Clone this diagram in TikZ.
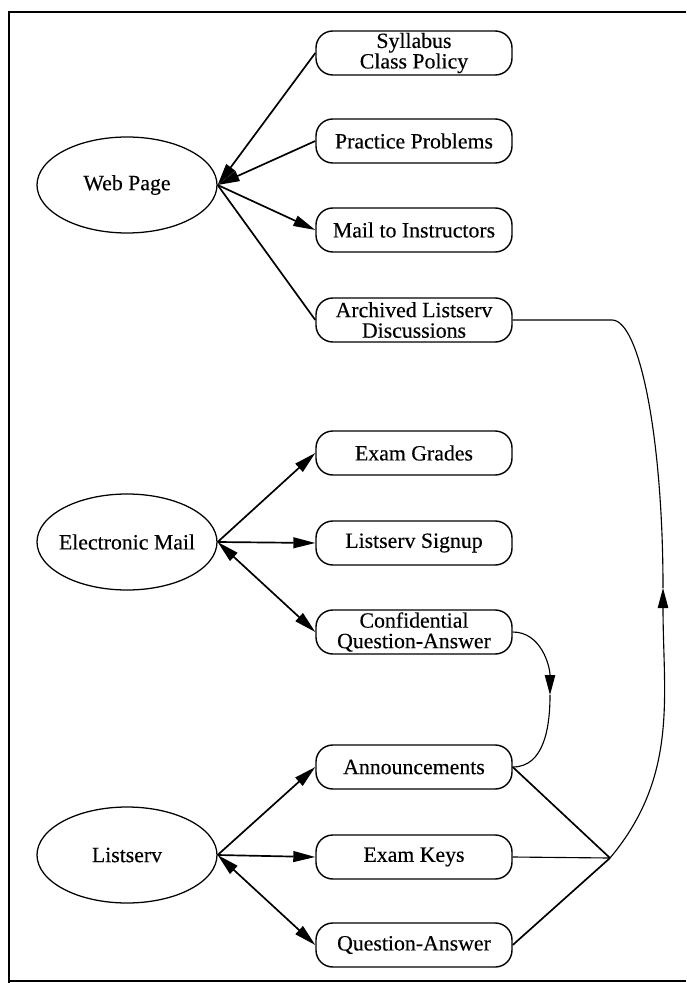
\documentclass[tikz,border=0pt]{standalone}
\usepackage{fontspec}
\setmainfont[FakeBold=0.3]{Liberation Serif}
\usepackage{tikz}
\usetikzlibrary{arrows.meta,shapes,arrows}

\begin{document}
\begin{tikzpicture}[font=\fontsize{15.5}{14.6}\selectfont]
      \useasboundingbox (0,0) rectangle (17.15,-24.575);
      % frame
      \draw[line width=1.5pt] (17.15,-0.3) -- (0.22,-0.3) -- (0.22,-24.575);
      \draw[line width=0.8pt] (0.22,-24.525) -- (17.15,-24.525);
      \begin{scope}[every node/.style={ellipse,draw,line width=0.9pt,minimum width=4.5cm,minimum height=2.4cm,inner sep=0pt}]
        \node (WP) at (3.175,-4.625)  {\makebox[0pt]{Web Page}};
        \node (EM) at (3.175,-13.55)  {\makebox[0pt]{Electronic Mail}};
        \node (LS) at (3.175,-21.375) {\makebox[0pt]{Listserv}};
      \end{scope}
      \begin{scope}[every node/.style={rectangle,rounded corners=0.42cm,draw,line width=1pt,minimum width=4.9cm,minimum height=1.1cm,inner ysep=0pt,align=center}]
        \node (SY) at (10.35,-1.325)  {Syllabus\\Class Policy};
        \node (PP) at (10.35,-3.525)  {Practice Problems};
        \node (MI) at (10.35,-5.75)   {Mail to Instructors};
        \node (AL) at (10.35,-8.0)    {Archived Listserv\\Discussions};
        \node (EG) at (10.35,-11.325) {Exam Grades};
        \node (SU) at (10.35,-13.575) {Listserv Signup};
        \node (CQ) at (10.35,-15.8)   {Confidential\\Question-Answer};
        \node (AN) at (10.35,-19.175) {Announcements};
        \node (EK) at (10.35,-21.425) {Exam Keys};
        \node (QA) at (10.35,-23.625) {Question-Answer};
      \end{scope}
      \coordinate (J) at (15.25,-21.45);
      \coordinate (R) at (16.575,-14.7);
      \coordinate (K) at (15.3,-8.0);
      \coordinate (C) at (13.75,-17.375);
      \begin{scope}[>={Triangle[length=5.5mm,width=2.7mm]},every edge/.style={draw=black,line width=1.2pt}]
        \path (SY.west) edge[->] (WP.east);   \path (PP.west) edge[->] (WP.east);
        \path (WP.east) edge[->] (MI.west);   \path (WP.east) edge (AL.west);
        \path (EM.east) edge[->] (EG.west);   \path (EM.east) edge[->] (SU.west);
        \path (EM.east) edge[<->] (CQ.west);  \path (LS.east) edge[->] (AN.west);
        \path (LS.east) edge[->] (EK.west);   \path (LS.east) edge[<->] (QA.west);
        \path (AN.east) edge (J);             \path (QA.east) edge (J);
      \end{scope}
      \begin{scope}[>={Triangle[length=5mm,width=2.6mm]},line width=0.8pt]
        \draw (EK.east) -- (J);
        \draw[->] (J) to[out=50,in=-90] (R);
        \draw (R) .. controls (16.575,-11.0) and (16.0,-8.0) .. (K) -- (AL.east);
        \draw[->] (CQ.east) to[out=0,in=90] (C);
        \draw (C) to[out=-90,in=0] (AN.east);
      \end{scope}
\end{tikzpicture}
\end{document}
